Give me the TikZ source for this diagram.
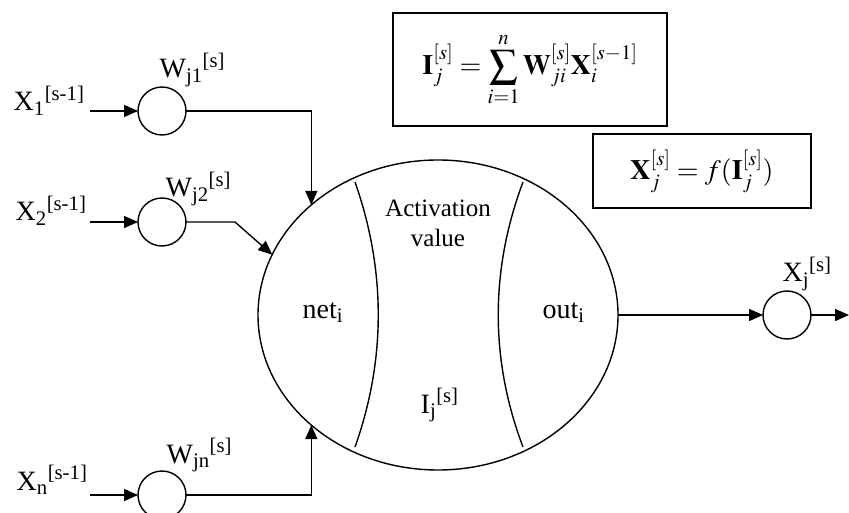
\documentclass[tikz,border=0pt]{standalone}
\usepackage{mathptmx}
\usepackage[no-math]{fontspec}
\setmainfont{Liberation Serif}
\usetikzlibrary{arrows.meta,shapes.geometric}

\begin{document}
\begin{tikzpicture}[
        x=1pt, y=-1pt,
        line width=1.4pt,
        >={Triangle[length=14pt,width=12pt]},
        syn/.style={
            draw,
            circle,
            minimum size=48pt,
            inner sep=0pt,
            outer sep=0pt
        },
        lbl/.style={font=\fontsize{28}{32}\selectfont, inner sep=0pt, anchor=base west},
        eqbox/.style={draw, inner sep=0pt, font=\fontsize{28}{32}\selectfont}
    ]
    \useasboundingbox (0,0) rectangle (849,513);

    % neuron body
    \node[draw, ellipse, minimum width=360pt, minimum height=310pt,
          inner sep=0pt, outer sep=0pt] (cell) at (438,315) {};
    \draw (355,182) .. controls (386,270) and (386,360) .. (355,447);
    \draw (523,182) .. controls (490,270) and (490,360) .. (523,447);
    \node[lbl] (net) at (302,318) {net\textsubscript{i}};
    \node[lbl] (out) at (542,318) {out\textsubscript{i}};
    \node[lbl] (ij) at (420,413) {I\textsubscript{j}\textsuperscript{[s]}};
    \node[font=\fontsize{25}{30}\selectfont, align=center, inner sep=0pt] (actv) at (438,223) {Activation\\value};

    % formulas
    \node[eqbox, minimum width=274pt, minimum height=113pt] (sum) at (530,69.5)
        {$\displaystyle \mathbf{I}_j^{[s]} = \sum_{i=1}^{n} \mathbf{W}_{ji}^{[s]}\mathbf{X}_i^{[s-1]}$};
    \node[eqbox, minimum width=218pt, minimum height=74pt] (fx) at (702,171)
        {$\mathbf{X}_j^{[s]} = f(\mathbf{I}_j^{[s]})$};

    % inputs and weights
    \node[syn] (w1) at (162,111) {};
    \node[syn] (w2) at (162,222) {};
    \node[syn] (wn) at (162,495) {};
    \coordinate (in1) at (90,111);
    \coordinate (in2) at (90,222);
    \coordinate (inn) at (90,495);
    \coordinate (bend2) at (235,222);
    \node[lbl] (x1) at (13,111) {X\textsubscript{1}\textsuperscript{[s-1]}};
    \node[lbl] (x2) at (15,221) {X\textsubscript{2}\textsuperscript{[s-1]}};
    \node[lbl] (xn) at (16,490) {X\textsubscript{n}\textsuperscript{[s-1]}};
    \node[lbl] (lw1) at (159,78) {W\textsubscript{j1}\textsuperscript{[s]}};
    \node[lbl] (lw2) at (165,197) {W\textsubscript{j2}\textsuperscript{[s]}};
    \node[lbl] (lwn) at (166,463) {W\textsubscript{jn}\textsuperscript{[s]}};

    \draw[->] (in1) -- (w1);
    \draw[->] (in2) -- (w2);
    \draw[->] (inn) -- (wn);
    \draw[->] (w1) -| (cell.139);
    \draw[->] (w2) -- (bend2) -- (cell.160);
    \draw[->] (wn) -| (cell.221);

    % output
    \node[syn] (xo) at (787,315) {};
    \node[lbl] (lxo) at (782,282) {X\textsubscript{j}\textsuperscript{[s]}};
    \coordinate (end) at (849,315);
    \draw[->] (cell.east) -- (xo);
    \draw[->] (xo) -- (end);
\end{tikzpicture}
\end{document}
